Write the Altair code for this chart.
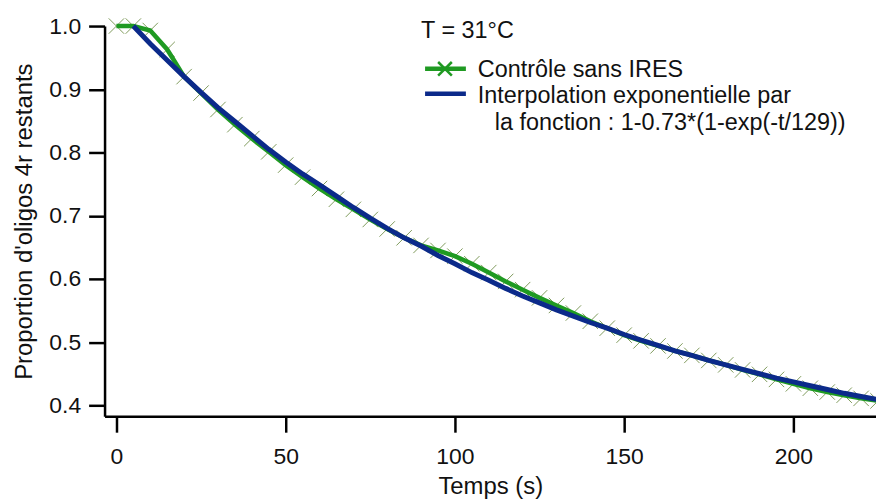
import altair as alt
import pandas as pd

# ---- data ----
t_ctrl = [0, 5, 10, 15, 20, 25, 30, 35, 40, 45, 50, 55, 60, 65, 70, 75, 80, 85, 90, 95,
          100, 105, 110, 115, 120, 125, 130, 135, 140, 145, 150, 155, 160, 165, 170, 175,
          180, 185, 190, 195, 200, 205, 210, 215, 220, 225]
v_ctrl = [1.000, 1.000, 0.993, 0.963, 0.920, 0.894, 0.868, 0.844, 0.822, 0.801, 0.780,
          0.761, 0.743, 0.726, 0.710, 0.694, 0.679, 0.665, 0.653, 0.645, 0.636, 0.624,
          0.610, 0.596, 0.583, 0.570, 0.558, 0.546, 0.533, 0.522, 0.511, 0.502, 0.494,
          0.486, 0.479, 0.471, 0.464, 0.456, 0.449, 0.441, 0.434, 0.427, 0.421, 0.416,
          0.411, 0.407]

t_fit = [5, 10, 15, 20, 25, 30, 35, 40, 45, 50, 55, 60, 65, 70, 75, 80, 85, 90, 95, 100,
         105, 110, 115, 120, 125, 130, 135, 140, 145, 150, 155, 160, 165, 170, 175, 180,
         185, 190, 195, 200, 205, 210, 215, 220, 225]
v_fit = [1.000, 0.972, 0.946, 0.920, 0.895, 0.871, 0.849, 0.827, 0.805, 0.785, 0.766,
         0.749, 0.731, 0.713, 0.696, 0.680, 0.665, 0.652, 0.637, 0.624, 0.610, 0.598,
         0.585, 0.573, 0.562, 0.551, 0.541, 0.531, 0.522, 0.512, 0.503, 0.495, 0.486,
         0.479, 0.471, 0.464, 0.457, 0.450, 0.443, 0.437, 0.431, 0.425, 0.419, 0.414,
         0.409]

x_ticks = [0, 50, 100, 150, 200]
y_ticks = [0.4, 0.5, 0.6, 0.7, 0.8, 0.9, 1.0]

legend_title = "T = 31°C"
legend_ctrl = "Contrôle sans IRES"
legend_fit_1 = "Interpolation exponentielle par"
legend_fit_2 = "la fonction : 1-0.73*(1-exp(-t/129))"

FONT = "Liberation Sans"
GREEN = "#1f9a22"
BLUE = "#0b2a8a"
MARK = "#7f9a5c"
XPATH = "M-1,-1L1,1M-1,1L1,-1"

ctrl = pd.DataFrame({"t": t_ctrl, "v": v_ctrl})
fit = pd.DataFrame({"t": t_fit, "v": v_fit})

x_enc = alt.X("t:Q",
              scale=alt.Scale(domain=[-3.5, 224.4], nice=False, zero=False),
              axis=alt.Axis(values=x_ticks, title="Temps (s)", grid=False,
                            tickSize=16, tickWidth=2.5, domainWidth=2.5,
                            tickColor="black", domainColor="black",
                            labelFont=FONT, labelFontSize=23, labelColor="#111",
                            labelPadding=13, labelFlush=False,
                            titleFont=FONT, titleFontSize=24, titleFontWeight="normal",
                            titleColor="#111", titlePadding=7))
y_enc = alt.Y("v:Q",
              scale=alt.Scale(domain=[0.3827, 1.0], nice=False, zero=False),
              axis=alt.Axis(values=y_ticks, format=".1f",
                            title="Proportion d'oligos 4r restants", grid=False,
                            tickSize=16, tickWidth=2.5, domainWidth=2.5,
                            tickColor="black", domainColor="black",
                            labelFont=FONT, labelFontSize=23, labelColor="#111",
                            labelPadding=8, labelFlush=False,
                            titleFont=FONT, titleFontSize=24, titleFontWeight="normal",
                            titleColor="#111", titlePadding=12))

markers = alt.Chart(ctrl).mark_point(shape=XPATH, filled=False, size=240,
                                     strokeWidth=1, color=MARK, opacity=1).encode(x=x_enc, y=y_enc)
green_line = alt.Chart(ctrl).mark_line(color=GREEN, strokeWidth=4.5).encode(x=x_enc, y=y_enc)
blue_line = alt.Chart(fit).mark_line(color=BLUE, strokeWidth=5).encode(x=x_enc, y=y_enc)

one = pd.DataFrame({"a": [0]})


def txt(s, x, y):
    return alt.Chart(one).mark_text(font=FONT, fontSize=23.5, align="left",
                                    baseline="alphabetic", color="#111").encode(
        x=alt.value(x), y=alt.value(y), text=alt.value(s))


leg_title = txt(legend_title, 318, 12)
leg_green = alt.Chart(one).mark_rule(color=GREEN, strokeWidth=4.5).encode(
    x=alt.value(322), x2=alt.value(363), y=alt.value(43))
leg_green_x = alt.Chart(one).mark_point(shape=XPATH, filled=False, size=190,
                                        strokeWidth=2.5, color=GREEN, opacity=1).encode(
    x=alt.value(342), y=alt.value(43))
leg_ctrl = txt(legend_ctrl, 375, 51)
leg_blue = alt.Chart(one).mark_rule(color=BLUE, strokeWidth=4.5).encode(
    x=alt.value(322), x2=alt.value(363), y=alt.value(68))
leg_fit1 = txt(legend_fit_1, 375, 77)
leg_fit2 = txt(legend_fit_2, 392, 104)

chart = alt.layer(
    markers, green_line, blue_line,
    leg_title, leg_green, leg_green_x, leg_ctrl, leg_blue, leg_fit1, leg_fit2
).properties(
    width=775, height=392,
    autosize=alt.AutoSizeParams(type="none"),
    padding={"left": 97, "top": 17, "right": 0, "bottom": 86},
    background="white",
).configure_view(stroke=None)

chart.save("out.html", embed_options={"renderer": "svg", "actions": False})
